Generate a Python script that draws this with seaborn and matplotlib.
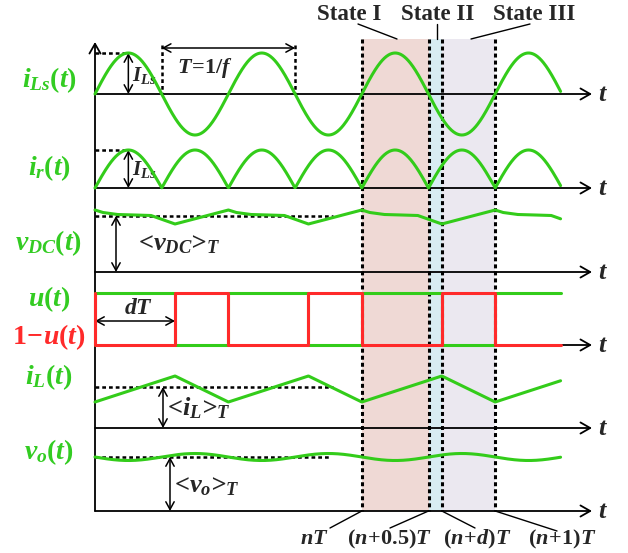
import numpy as np
import pandas as pd
import matplotlib
matplotlib.use("Agg")
import matplotlib.pyplot as plt
import seaborn as sns

# ---------------- data ----------------
duty = 0.6                      # d
t_end = 3.49                    # waveforms drawn over [0, t_end] periods
n_state = 2                     # the highlighted period starts at nT
state_bounds = [n_state, n_state + 0.5, n_state + duty, n_state + 1]   # nT, (n+0.5)T, (n+d)T, (n+1)T
state_names = ["State I", "State II", "State III"]
state_colors = ["#efd9d5", "#d8ecf2", "#ebe8f0"]
bottom_labels = [r"$nT$", r"$(n\!+\!0.5)T$", r"$(n\!+\!d)T$", r"$(n\!+\!1)T$"]

# waveform magnitudes (px-like units above each time axis)
iLs_amp = 41
ir_amp = 38
vdc_avg = 56
vdc_phase = [0.0, 0.06, 0.17, 0.30, 0.42, 0.60, 1.0]
vdc_value = [62, 59.5, 57.5, 57, 56.5, 48, 62]
iL_avg = 41
iL_phase = [0.0, duty, 1.0]
iL_value = [26, 52, 26]
vo_avg = 54
vo_ripple = 3.5
u_high = 52

left_labels = [r"$i_{Ls}(t)$", r"$i_{r}(t)$", r"$v_{DC}(t)$", r"$u(t)$", r"$\mathit{1}\!-\!u(t)$", r"$i_{L}(t)$", r"$v_{o}(t)$"]
avg_labels = [r"<$v_{DC}$>$_{T}$", r"<$i_{L}$>$_{T}$", r"<$v_{o}$>$_{T}$"]

# ---------------- layout ----------------
W, H = 628, 553
X0, PXT = 95, 133.4
rows = [94, 188, 272, 345, 428, 511]      # time-axis rows (px from top)
def fx(px):
    return (px - X0) / PXT

GREEN = "#33cc1a"
RED = "#ff2a2a"
LGREEN = "#33cc22"

sns.set_style("white")
plt.rcParams["font.family"] = ["Liberation Serif", "DejaVu Serif"]
plt.rcParams["mathtext.fontset"] = "custom"
plt.rcParams["mathtext.it"] = "Liberation Serif:italic:bold"
plt.rcParams["mathtext.rm"] = "Liberation Serif:bold"
plt.rcParams["mathtext.bf"] = "Liberation Serif:bold"

fig = plt.figure(figsize=(W / 100, H / 100), dpi=100)
ax = fig.add_axes([0, 0, 1, 1])
ax.set_xlim(fx(0), fx(W))
ax.set_ylim(H, 0)
ax.axis("off")

top_y, bot_y = 39, rows[-1]

# state shading + dotted boundaries
for i in range(3):
    ax.axvspan(state_bounds[i], state_bounds[i + 1], ymin=1 - bot_y / H, ymax=1 - top_y / H,
               color=state_colors[i], lw=0, zorder=0)
for b in state_bounds:
    ax.plot([b, b], [top_y, bot_y], color="k", lw=2.2, ls=(0, (1.3, 1.0)), zorder=4)

# axes
akw = dict(arrowstyle="->,head_length=0.7,head_width=0.4", lw=1.3, color="k", shrinkA=0, shrinkB=0)
for r in rows:
    ax.annotate("", xy=(fx(592), r), xytext=(0, r), arrowprops=akw, zorder=3)
    ax.text(fx(598), r + 1, r"$t$", fontsize=19, ha="left", va="center")
ax.annotate("", xy=(0, 42), xytext=(0, rows[-1]), arrowprops=akw, zorder=3)

# waveforms
t = np.linspace(0, t_end, 900)
iLs = np.sin(2 * np.pi * t)
sns.lineplot(x=t, y=rows[0] - iLs_amp * iLs, ax=ax, color=GREEN, lw=2.2, zorder=5)
sns.lineplot(x=t, y=rows[1] - ir_amp * np.abs(iLs), ax=ax, color=GREEN, lw=2.2, zorder=5)

def tile(phase, value):
    tt, vv = [], []
    for k in range(int(np.ceil(t_end))):
        for p, v in zip(phase, value):
            tt.append(k + p); vv.append(v)
    tt, vv = np.array(tt), np.array(vv)
    keep = tt < t_end
    return np.append(tt[keep], t_end), np.append(vv[keep], np.interp(t_end, tt, vv))

tv, vv = tile(vdc_phase, vdc_value)
sns.lineplot(x=tv, y=rows[2] - vv, ax=ax, color=GREEN, lw=2.2, zorder=5, sort=False, estimator=None)
ti, vi = tile(iL_phase, iL_value)
sns.lineplot(x=ti, y=rows[4] - vi, ax=ax, color=GREEN, lw=2.2, zorder=5, sort=False, estimator=None)
vo = vo_avg - vo_ripple * np.sin(2 * np.pi * t)
sns.lineplot(x=t, y=rows[5] - vo, ax=ax, color=GREEN, lw=2.2, zorder=5)

# u and 1-u (switching functions)
tu, uu = [], []
for k in range(int(np.ceil(t_end))):
    for p, v in [(0, 0), (0, 1), (duty, 1), (duty, 0), (1, 0)]:
        if k + p <= t_end:
            tu.append(k + p); uu.append(v)
tu.append(t_end); uu.append(1)
sw = pd.DataFrame({"t": tu, "u": uu})
sw["u_y"] = rows[3] - u_high * sw["u"]
sw["nu_y"] = rows[3] - u_high * (1 - sw["u"])
sns.lineplot(data=sw, x="t", y="u_y", ax=ax, color=GREEN, lw=2.2, zorder=5, sort=False, estimator=None)
sns.lineplot(data=sw, x="t", y="nu_y", ax=ax, color=RED, lw=2.2, zorder=6, sort=False, estimator=None)

# annotations
dkw = dict(color="k", lw=1.8, ls=(0, (1.5, 1.2)), zorder=4)
a2 = dict(arrowstyle="<->,head_length=0.55,head_width=0.3", lw=1.1, color="k", shrinkA=0, shrinkB=0)
tkw = dict(fontsize=19, ha="left", va="center", fontweight="bold", fontstyle="italic")
# iLs
ax.plot([0, 0.25], [rows[0] - iLs_amp] * 2, **dkw)
ax.annotate("", xy=(0.25, rows[0] - iLs_amp), xytext=(0.25, rows[0]), arrowprops=a2)
ax.text(fx(132), 75, r"$I_{Ls}$", fontsize=15, ha="left", va="center")
ax.plot([0.5, 0.5], [45, rows[0]], **dkw)
ax.plot([1.5, 1.5], [45, rows[0]], **dkw)
ax.annotate("", xy=(1.5, 48), xytext=(0.5, 48), arrowprops=a2)
ax.text(fx(205), 68, r"$T\!=\!\mathit{1}/f$", fontsize=16, ha="center", va="center")
# ir
ax.plot([0, 0.25], [rows[1] - ir_amp] * 2, **dkw)
ax.annotate("", xy=(0.25, rows[1] - ir_amp), xytext=(0.25, rows[1]), arrowprops=a2)
ax.text(fx(132), 170, r"$I_{Ls}$", fontsize=15, ha="left", va="center")
# vdc
ax.plot([0, fx(333)], [rows[2] - vdc_avg] * 2, **dkw)
ax.annotate("", xy=(fx(116), rows[2] - vdc_avg), xytext=(fx(116), rows[2]), arrowprops=a2)
ax.text(fx(138), 245, avg_labels[0], **tkw)
# dT
ax.annotate("", xy=(duty, 321), xytext=(0, 321), arrowprops=a2)
ax.text(fx(139), 309, r"$dT$", fontsize=17, ha="center", va="center")
# iL
ax.plot([0, fx(333)], [rows[4] - iL_avg] * 2, **dkw)
ax.annotate("", xy=(fx(163), rows[4] - iL_avg), xytext=(fx(163), rows[4]), arrowprops=a2)
ax.text(fx(167), 408, avg_labels[1], **tkw)
# vo
ax.plot([0, fx(330)], [rows[5] - vo_avg] * 2, **dkw)
ax.annotate("", xy=(fx(170), rows[5] - vo_avg), xytext=(fx(170), rows[5]), arrowprops=a2)
ax.text(fx(174), 487, avg_labels[2], **tkw)

# left labels
lab_y = [80, 168, 243, 299, 337, 377, 452]
for lab, y in zip(left_labels, lab_y):
    ax.text(fx(49), y, lab, fontsize=20, ha="center", va="center",
            color=RED if lab.startswith(r"$\mathit{1}") else LGREEN)

# state labels + leader lines
st_x = [349, 438, 534]
leaders = [((358, 24), (397, 39)), ((437, 24), (437, 39)), ((530, 24), (471, 39))]
for name, x, ((xa, ya), (xb, yb)) in zip(state_names, st_x, leaders):
    ax.text(fx(x), 15, name, fontsize=16.5, fontweight="bold", ha="center", va="center")
    ax.plot([fx(xa), fx(xb)], [ya, yb], color="k", lw=1.0)

# bottom labels + leader lines
bl_x = [314, 390, 477, 562]
bl_end = [(330, 528), (390, 528), (475, 528), (557, 531)]
for lab, b, x, (xe, ye) in zip(bottom_labels, state_bounds, bl_x, bl_end):
    ax.plot([b, fx(xe)], [rows[-1], ye], color="k", lw=1.0)
    ax.text(fx(x), 539, lab, fontsize=16, ha="center", va="center")

fig.savefig("out.png", dpi=100)
